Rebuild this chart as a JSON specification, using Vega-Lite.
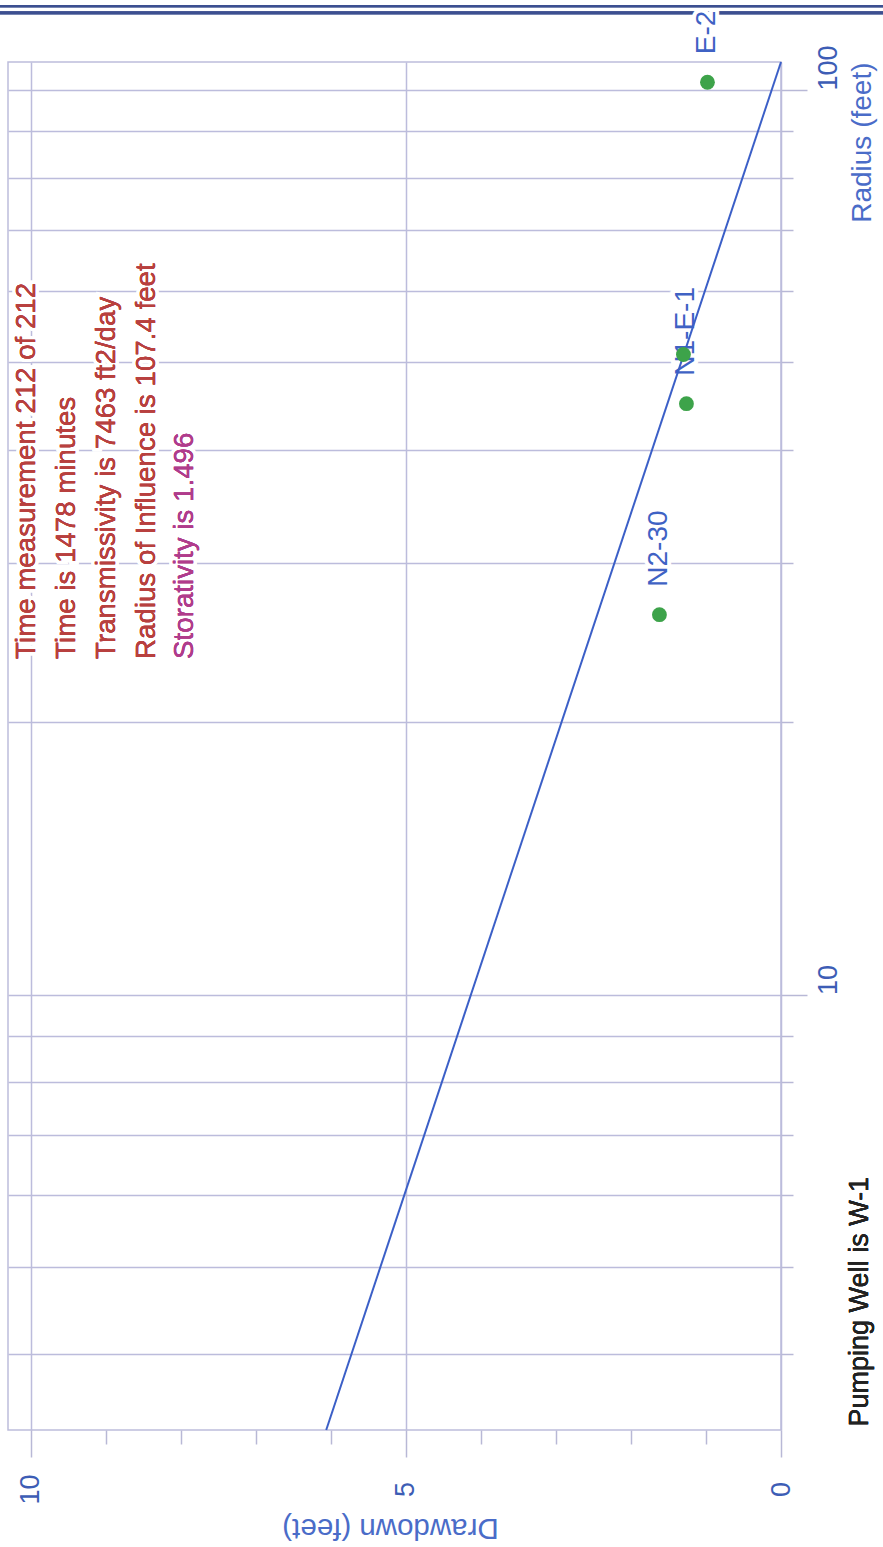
{
  "$schema": "https://vega.github.io/schema/vega-lite/v6.json",
  "description": "Distance-drawdown plot for pumping well W-1: observation wells and the fitted straight line",
  "width": 773,
  "height": 1368,
  "autosize": {"type": "none"},
  "padding": {"left": 8, "top": 62, "right": 102, "bottom": 117},
  "background": "white",
  "config": {
    "font": "Liberation Sans",
    "view": {"stroke": "#bdbddb", "strokeWidth": 1.5}
  },
  "datasets": {
    "wells": [
      {"well": "E-2", "radius": 102, "drawdown": 0.98},
      {"well": "", "radius": 51, "drawdown": 1.3},
      {"well": "N1-E-1", "radius": 45, "drawdown": 1.26},
      {"well": "N2-30", "radius": 26.3, "drawdown": 1.62}
    ],
    "fit": [
      {"radius": 107.4, "drawdown": 0},
      {"radius": 3.3, "drawdown": 6.06}
    ]
  },
  "data": {"name": "wells"},
  "encoding": {
    "x": {
      "field": "drawdown",
      "type": "quantitative",
      "scale": {"domain": [0, 10.3], "reverse": true, "nice": false, "zero": false},
      "axis": {
        "orient": "bottom",
        "title": "Drawdown (feet)",
        "values": [0, 1, 2, 3, 4, 5, 6, 7, 8, 9, 10],
        "domain": false,
        "grid": true,
        "gridColor": "#bcbcdc",
        "gridWidth": 1.5,
        "gridOpacity": {"condition": {"test": "datum.value % 5 === 0", "value": 1}, "value": 0},
        "ticks": true,
        "tickColor": "#b8b8d6",
        "tickWidth": 1.5,
        "tickSize": {"condition": {"test": "datum.value % 5 === 0", "value": 27}, "value": 14},
        "labelExpr": "datum.value % 5 === 0 ? '' + datum.value : ''",
        "labelAngle": 270,
        "labelAlign": "center",
        "labelBaseline": "middle",
        "labelPadding": 32,
        "labelFontSize": 27,
        "labelColor": "#3d5db5",
        "labelFont": "Liberation Sans",
        "titleFont": "Liberation Sans",
        "titleFontSize": 29.5,
        "titleFontWeight": "normal",
        "titleColor": "#4a6cc8",
        "titleAngle": 180,
        "titleAlign": "center",
        "titleBaseline": "middle",
        "titleX": 382,
        "titleY": 97
      }
    },
    "y": {
      "field": "radius",
      "type": "quantitative",
      "scale": {"type": "log", "domain": [3.3, 107.4], "nice": false},
      "axis": {
        "orient": "right",
        "title": "Radius (feet)",
        "values": [4, 5, 6, 7, 8, 9, 10, 20, 30, 40, 50, 60, 70, 80, 90, 100],
        "domain": false,
        "grid": true,
        "gridColor": "#bcbcdc",
        "gridWidth": 1.5,
        "ticks": true,
        "tickColor": "#b8b8d6",
        "tickWidth": 1.5,
        "tickSize": {"condition": {"test": "datum.value === 10 || datum.value === 100", "value": 26}, "value": 12},
        "labelExpr": "datum.value === 10 || datum.value === 100 ? '' + datum.value : ''",
        "labelAngle": 270,
        "labelAlign": "left",
        "labelBaseline": "middle",
        "labelPadding": 21,
        "labelFontSize": 27,
        "labelColor": "#3d5db5",
        "labelFont": "Liberation Sans",
        "titleFont": "Liberation Sans",
        "titleFontSize": 28,
        "titleFontWeight": "normal",
        "titleColor": "#4a6cc8",
        "titleAngle": 270,
        "titleAlign": "right",
        "titleBaseline": "middle",
        "titleX": 81,
        "titleY": 0
      }
    }
  },
  "layer": [
    {
      "description": "double frame line above the plot",
      "mark": {"type": "rule", "color": "#3c4f90", "strokeWidth": 2},
      "encoding": {
        "x": {"datum": 10.41},
        "x2": {"datum": -1.36},
        "y": {"datum": 123.8}
      }
    },
    {
      "mark": {"type": "rule", "color": "#3c4f90", "strokeWidth": 2.8},
      "encoding": {
        "x": {"datum": 10.41},
        "x2": {"datum": -1.36},
        "y": {"datum": 121.7}
      }
    },
    {
      "description": "white halo behind the well labels",
      "mark": {
        "type": "text", "angle": 270, "align": "left", "baseline": "middle", "dx": 28,
        "fontSize": 28, "font": "Liberation Sans", "stroke": "white", "strokeWidth": 8, "fill": "white"
      },
      "encoding": {"text": {"field": "well"}}
    },
    {
      "description": "white halo behind the summary notes",
      "mark": {
        "type": "text", "angle": 270, "align": "left", "baseline": "middle", "lineHeight": 40,
        "fontSize": 27.7, "font": "Liberation Sans", "stroke": "white", "strokeWidth": 7, "fill": "white"
      },
      "encoding": {
        "x": {"datum": 10.05},
        "y": {"datum": 23.5},
        "text": {"value": ["Time measurement 212 of 212", "Time is 1478 minutes", "Transmissivity is 7463 ft2/day", "Radius of Influence is 107.4 feet"]}
      }
    },
    {
      "mark": {
        "type": "text", "angle": 270, "align": "left", "baseline": "middle",
        "fontSize": 27.7, "font": "Liberation Sans", "stroke": "white", "strokeWidth": 7, "fill": "white"
      },
      "encoding": {
        "x": {"datum": 7.94},
        "y": {"datum": 23.5},
        "text": {"value": "Storativity is 1.496"}
      }
    },
    {
      "description": "summary notes of the fit",
      "mark": {
        "type": "text", "angle": 270, "align": "left", "baseline": "middle", "lineHeight": 40,
        "fontSize": 27.7, "font": "Liberation Sans", "color": "#b8403f"
      },
      "encoding": {
        "x": {"datum": 10.05},
        "y": {"datum": 23.5},
        "text": {"value": ["Time measurement 212 of 212", "Time is 1478 minutes", "Transmissivity is 7463 ft2/day", "Radius of Influence is 107.4 feet"]}
      }
    },
    {
      "mark": {
        "type": "text", "angle": 270, "align": "left", "baseline": "middle",
        "fontSize": 27.7, "font": "Liberation Sans", "color": "#b03c8c"
      },
      "encoding": {
        "x": {"datum": 7.94},
        "y": {"datum": 23.5},
        "text": {"value": "Storativity is 1.496"}
      }
    },
    {
      "description": "well labels",
      "mark": {
        "type": "text", "angle": 270, "align": "left", "baseline": "middle", "dx": 28,
        "fontSize": 28, "font": "Liberation Sans", "color": "#3f62c4"
      },
      "encoding": {"text": {"field": "well"}}
    },
    {
      "mark": {
        "type": "text", "angle": 270, "align": "left", "baseline": "middle",
        "fontSize": 27, "font": "Liberation Sans", "color": "#222222"
      },
      "encoding": {
        "x": {"datum": -1.05},
        "y": {"datum": 3.33},
        "text": {"value": "Pumping Well is W-1"}
      }
    },
    {
      "description": "fitted distance-drawdown line",
      "data": {"name": "fit"},
      "mark": {"type": "line", "color": "#3b5fc7", "strokeWidth": 2},
      "encoding": {"order": {"field": "radius", "type": "quantitative"}}
    },
    {
      "description": "observation wells",
      "mark": {"type": "point", "filled": true, "size": 220, "color": "#3da34a", "opacity": 1},
      "encoding": {}
    }
  ]
}
